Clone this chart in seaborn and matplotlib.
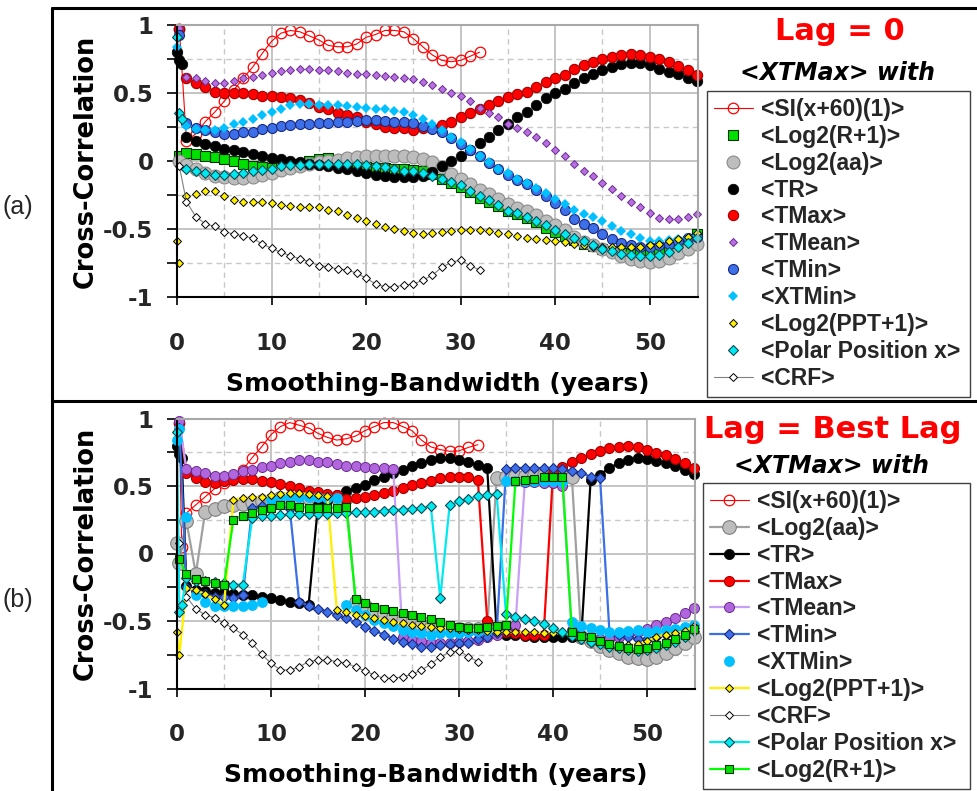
import matplotlib
matplotlib.use("Agg")
import matplotlib.pyplot as plt
import seaborn as sns
from matplotlib.lines import Line2D
from matplotlib.ticker import FixedLocator

# ---------------- data ----------------
X_MAIN = list(range(1, 56))      # bandwidth 1..55
X_SHORT = list(range(1, 33))     # bandwidth 1..32 (SI, CRF)

Y_TICKS = [-1, -0.5, 0, 0.5, 1]
Y_TICK_LABELS = ["-1", "-0.5", "0", "0.5", "1"]
X_TICKS = [0, 10, 20, 30, 40, 50]
X_TICK_LABELS = ["0", "10", "20", "30", "40", "50"]

# ---- panel (a): Lag = 0 ----
A_SI_X0 = [0.25]
A_SI_Y0 = [0.97]
A_SI = [0.15, 0.20, 0.29, 0.36, 0.44, 0.52, 0.61, 0.69, 0.79, 0.88,
        0.94, 0.96, 0.95, 0.92, 0.89, 0.85, 0.84, 0.84, 0.86, 0.91,
        0.93, 0.96, 0.96, 0.95, 0.90, 0.84, 0.78, 0.74, 0.73, 0.74,
        0.77, 0.80]

A_RP1_X0 = [0.25]
A_RP1_Y0 = [0.04]
A_RP1 = [0.06, 0.055, 0.04, 0.03, 0.015, 0.0, -0.02, -0.035, -0.045, -0.05,
         -0.045, -0.035, -0.02, 0.0, 0.015, 0.02, 0.01, -0.01, -0.03, -0.045,
         -0.05, -0.055, -0.06, -0.06, -0.065, -0.075, -0.095, -0.13, -0.16, -0.19,
         -0.23, -0.27, -0.30, -0.33, -0.37, -0.39, -0.42, -0.45, -0.49, -0.52,
         -0.55, -0.58, -0.61, -0.625, -0.65, -0.66, -0.675, -0.68, -0.685, -0.685,
         -0.675, -0.655, -0.62, -0.585, -0.535]

A_AA_X0 = [0.25]
A_AA_Y0 = [0.0]
A_AA = [-0.03, -0.06, -0.09, -0.11, -0.12, -0.125, -0.125, -0.115, -0.10, -0.085,
        -0.065, -0.05, -0.035, -0.02, -0.01, 0.0, 0.01, 0.02, 0.03, 0.035,
        0.04, 0.04, 0.04, 0.035, 0.03, 0.015, -0.005, -0.045, -0.094, -0.13,
        -0.17, -0.21, -0.246, -0.28, -0.315, -0.345, -0.37, -0.394, -0.44, -0.468,
        -0.51, -0.556, -0.598, -0.62, -0.647, -0.67, -0.70, -0.72, -0.733, -0.745,
        -0.733, -0.71, -0.68, -0.647, -0.61]

A_TR_X0 = [0.0, 0.25, 0.5]
A_TR_Y0 = [0.80, 0.74, 0.71]
A_TR = [0.175, 0.15, 0.128, 0.11, 0.09, 0.078, 0.066, 0.054, 0.04, 0.024,
        0.012, 0.0, -0.01, -0.02, -0.03, -0.04, -0.05, -0.06, -0.07, -0.085,
        -0.10, -0.11, -0.12, -0.12, -0.12, -0.11, -0.08, -0.04, 0.0, 0.04,
        0.08, 0.13, 0.175, 0.225, 0.275, 0.32, 0.36, 0.41, 0.46, 0.50,
        0.53, 0.57, 0.61, 0.64, 0.67, 0.69, 0.71, 0.72, 0.72, 0.705,
        0.68, 0.655, 0.64, 0.61, 0.585]

A_TMAX_X0 = [0.25]
A_TMAX_Y0 = [0.97]
A_TMAX = [0.61, 0.57, 0.545, 0.51, 0.50, 0.50, 0.50, 0.49, 0.48, 0.48,
          0.47, 0.46, 0.45, 0.43, 0.40, 0.38, 0.35, 0.34, 0.32, 0.29,
          0.27, 0.25, 0.24, 0.24, 0.23, 0.24, 0.245, 0.267, 0.29, 0.32,
          0.355, 0.385, 0.415, 0.44, 0.47, 0.49, 0.51, 0.545, 0.58, 0.61,
          0.636, 0.68, 0.705, 0.73, 0.75, 0.766, 0.78, 0.79, 0.78, 0.766,
          0.75, 0.73, 0.70, 0.67, 0.63]

A_TMEAN_X0 = [0.25]
A_TMEAN_Y0 = [0.98]
A_TMEAN = [0.618, 0.61, 0.59, 0.57, 0.57, 0.59, 0.61, 0.62, 0.63, 0.65,
           0.665, 0.67, 0.68, 0.68, 0.67, 0.668, 0.66, 0.65, 0.64, 0.64,
           0.63, 0.626, 0.62, 0.61, 0.60, 0.58, 0.56, 0.53, 0.50, 0.475,
           0.44, 0.39, 0.35, 0.32, 0.27, 0.24, 0.21, 0.18, 0.13, 0.08,
           0.035, -0.025, -0.074, -0.11, -0.16, -0.205, -0.254, -0.30, -0.34, -0.38,
           -0.42, -0.43, -0.43, -0.41, -0.39]

A_TMIN_X0 = [0.25]
A_TMIN_Y0 = [0.93]
A_TMIN = [0.28, 0.24, 0.225, 0.21, 0.196, 0.196, 0.21, 0.213, 0.233, 0.243,
          0.257, 0.267, 0.275, 0.275, 0.28, 0.28, 0.286, 0.286, 0.296, 0.30,
          0.30, 0.296, 0.29, 0.29, 0.28, 0.26, 0.237, 0.21, 0.17, 0.127,
          0.08, 0.034, -0.015, -0.057, -0.10, -0.14, -0.168, -0.21, -0.254, -0.31,
          -0.36, -0.425, -0.46, -0.49, -0.54, -0.574, -0.60, -0.62, -0.63, -0.635,
          -0.62, -0.61, -0.586, -0.566, -0.556]

A_XTMIN_X0 = [0.0]
A_XTMIN_Y0 = [0.84]
A_XTMIN = [0.26, 0.235, 0.225, 0.225, 0.24, 0.27, 0.29, 0.31, 0.34, 0.36,
           0.385, 0.41, 0.42, 0.42, 0.415, 0.415, 0.41, 0.405, 0.40, 0.39,
           0.385, 0.38, 0.365, 0.36, 0.336, 0.31, 0.275, 0.226, 0.176, 0.14,
           0.09, 0.04, -0.008, -0.057, -0.09, -0.13, -0.163, -0.20, -0.237, -0.28,
           -0.315, -0.36, -0.39, -0.414, -0.443, -0.475, -0.512, -0.537, -0.566, -0.586,
           -0.586, -0.58, -0.573, -0.566, -0.55]

A_PPT_X0 = [0.0, 0.25]
A_PPT_Y0 = [-0.585, -0.75]
A_PPT = [-0.254, -0.246, -0.22, -0.22, -0.26, -0.285, -0.298, -0.298, -0.298, -0.31,
         -0.32, -0.33, -0.34, -0.34, -0.34, -0.357, -0.37, -0.396, -0.42, -0.443,
         -0.463, -0.483, -0.50, -0.512, -0.53, -0.54, -0.527, -0.52, -0.517, -0.51,
         -0.508, -0.51, -0.517, -0.53, -0.537, -0.55, -0.566, -0.573, -0.58, -0.59,
         -0.598, -0.61, -0.62, -0.63, -0.63, -0.635, -0.635, -0.635, -0.635, -0.62,
         -0.61, -0.59, -0.573, -0.556, -0.53]

A_POLAR_X0 = [0.0, 0.25, 0.5]
A_POLAR_Y0 = [0.91, 0.355, 0.31]
A_POLAR = [-0.057, -0.075, -0.09, -0.10, -0.10, -0.094, -0.09, -0.074, -0.064, -0.057,
           -0.04, -0.032, -0.032, -0.02, -0.02, -0.02, -0.02, -0.025, -0.025, -0.032,
           -0.04, -0.045, -0.057, -0.07, -0.074, -0.089, -0.11, -0.13, -0.155, -0.18,
           -0.22, -0.26, -0.29, -0.32, -0.365, -0.385, -0.414, -0.44, -0.47, -0.51,
           -0.54, -0.566, -0.59, -0.615, -0.647, -0.66, -0.684, -0.69, -0.696, -0.696,
           -0.69, -0.672, -0.635, -0.605, -0.566]

A_CRF_X0 = [0.25]
A_CRF_Y0 = [-0.04]
A_CRF = [-0.30, -0.41, -0.463, -0.48, -0.52, -0.537, -0.55, -0.568, -0.61, -0.642,
         -0.672, -0.696, -0.72, -0.74, -0.77, -0.777, -0.795, -0.80, -0.826, -0.86,
         -0.905, -0.925, -0.925, -0.913, -0.905, -0.876, -0.84, -0.782, -0.745, -0.728,
         -0.77, -0.80]

# ---- panel (b): Lag = Best Lag ----
B_SI_X0 = [0.25, 0.5]
B_SI_Y0 = [0.97, 0.05]
B_SI = [0.30, 0.36, 0.42, 0.48, 0.52, 0.56, 0.62, 0.71, 0.79, 0.88,
        0.94, 0.97, 0.95, 0.93, 0.89, 0.86, 0.84, 0.85, 0.87, 0.91,
        0.94, 0.97, 0.97, 0.94, 0.91, 0.84, 0.79, 0.77, 0.757, 0.76,
        0.786, 0.806]

B_AA_X0 = [0.0, 0.25]
B_AA_Y0 = [0.08, -0.07]
B_AA = [0.24, -0.15, 0.31, 0.33, 0.35, 0.36, 0.37, 0.38, 0.39, 0.40,
        0.41, 0.41, 0.41, 0.41, 0.41, 0.41, 0.41, 0.41, -0.357, -0.39,
        -0.42, -0.443, -0.468, -0.493, -0.51, -0.53, -0.542, -0.55, -0.555, -0.56,
        -0.56, -0.56, -0.555, 0.56, 0.57, 0.575, 0.575, 0.58, 0.58, 0.58,
        0.575, 0.57, -0.62, -0.65, -0.685, -0.715, -0.74, -0.765, -0.777, -0.78,
        -0.765, -0.74, -0.70, -0.665, -0.62]

B_TR_X0 = [0.0, 0.25, 0.5]
B_TR_Y0 = [0.80, 0.74, 0.71]
B_TR = [-0.24, -0.27, -0.28, -0.29, -0.295, -0.30, -0.307, -0.31, -0.32, -0.33,
        -0.345, -0.357, -0.37, -0.38, 0.36, 0.40, 0.43, 0.46, 0.485, 0.51,
        0.545, 0.57, 0.596, 0.62, 0.645, 0.67, 0.69, 0.705, 0.707, 0.695,
        0.68, 0.655, 0.63, -0.58, -0.60, -0.60, -0.61, -0.62, -0.62, -0.62,
        -0.62, -0.62, -0.62, 0.547, 0.584, 0.633, 0.67, 0.695, 0.707, 0.70,
        0.688, 0.67, 0.646, 0.62, 0.59]

B_TMAX_X0 = [0.25]
B_TMAX_Y0 = [0.97]
B_TMAX = [0.60, 0.56, 0.53, 0.52, 0.535, 0.546, 0.553, 0.55, 0.54, 0.53,
          0.515, 0.497, 0.485, 0.465, 0.455, 0.44, 0.43, 0.405, 0.41, 0.416,
          0.43, 0.448, 0.465, 0.485, 0.505, 0.52, 0.54, 0.56, 0.564, 0.564,
          0.564, 0.547, -0.50, -0.57, -0.58, -0.59, -0.60, -0.60, -0.60, 0.60,
          0.64, 0.68, 0.71, 0.737, 0.76, 0.78, 0.79, 0.80, 0.786, 0.77,
          0.745, 0.727, 0.70, 0.67, 0.633]

B_TMEAN_X0 = [0.25]
B_TMEAN_Y0 = [0.98]
B_TMEAN = [0.625, 0.61, 0.596, 0.576, 0.576, 0.59, 0.61, 0.62, 0.64, 0.65,
           0.67, 0.68, 0.69, 0.69, 0.68, 0.675, 0.66, 0.65, 0.645, 0.64,
           0.633, 0.633, 0.625, -0.62, -0.64, -0.65, -0.66, -0.66, -0.66, -0.655,
           -0.65, -0.64, -0.62, -0.60, -0.56, -0.53, 0.53, 0.53, 0.52, 0.52,
           0.50, -0.57, -0.60, -0.62, -0.63, -0.63, -0.62, -0.60, -0.58, -0.56,
           -0.53, -0.505, -0.48, -0.44, -0.40]

B_TMIN_X0 = [0.25]
B_TMIN_Y0 = [0.93]
B_TMIN = [-0.25, -0.28, -0.30, -0.32, -0.32, -0.33, -0.31, 0.34, 0.35, 0.355,
          0.36, 0.33, -0.36, -0.387, -0.41, -0.43, -0.455, -0.48, -0.51, -0.542,
          -0.574, -0.60, -0.63, -0.653, -0.67, -0.69, -0.69, -0.678, -0.673, -0.665,
          -0.66, -0.634, -0.616, -0.59, 0.626, 0.633, 0.633, 0.633, 0.633, 0.633,
          0.626, 0.61, 0.596, 0.57, 0.56, -0.58, -0.60, -0.62, -0.63, -0.63,
          -0.62, -0.60, -0.58, -0.57, -0.55]

B_XTMIN_X0 = [0.0, 0.25]
B_XTMIN_Y0 = [0.84, 0.92]
B_XTMIN = [0.27, -0.31, -0.36, -0.39, -0.39, -0.39, -0.386, -0.38, -0.36, 0.40,
           0.41, 0.415, 0.42, 0.42, 0.415, 0.41, 0.41, -0.38, -0.418, -0.455,
           -0.49, -0.517, -0.54, -0.567, -0.584, -0.59, -0.60, -0.59, -0.59, -0.59,
           -0.585, -0.575, -0.565, -0.55, 0.54, 0.535, 0.535, 0.535, 0.535, 0.535,
           0.53, -0.505, -0.54, -0.55, -0.565, -0.585, -0.585, -0.575, -0.57, -0.585,
           -0.575, -0.57, -0.56, -0.545, -0.53]

B_PPT_X0 = [0.0, 0.25]
B_PPT_Y0 = [-0.585, -0.75]
B_PPT = [-0.258, -0.27, -0.30, -0.34, -0.38, 0.40, 0.41, 0.416, 0.416, 0.43,
         0.44, 0.448, 0.448, 0.44, 0.43, 0.423, -0.42, -0.43, -0.455, -0.46,
         -0.475, -0.49, -0.51, -0.517, -0.53, -0.535, -0.542, -0.55, -0.555, -0.56,
         -0.565, -0.57, -0.575, -0.58, -0.585, -0.585, -0.585, -0.585, -0.59, -0.59,
         -0.595, -0.60, -0.63, -0.665, -0.67, -0.68, -0.68, -0.68, -0.67, -0.65,
         -0.616, -0.60, -0.59, -0.575, -0.54]

B_CRF_X0 = [0.25]
B_CRF_Y0 = [0.08]
B_CRF = [-0.32, -0.41, -0.455, -0.475, -0.517, -0.555, -0.60, -0.665, -0.747, -0.813,
         -0.863, -0.863, -0.84, -0.80, -0.79, -0.79, -0.80, -0.813, -0.84, -0.87,
         -0.90, -0.925, -0.925, -0.912, -0.895, -0.863, -0.82, -0.764, -0.732, -0.72,
         -0.764, -0.80]

B_POLAR_X0 = [0.0, 0.25, 0.5]
B_POLAR_Y0 = [0.90, -0.43, -0.38]
B_POLAR = [-0.18, -0.20, -0.20, -0.21, -0.22, -0.23, -0.23, 0.26, 0.275, 0.275,
           0.283, 0.29, 0.29, 0.29, 0.29, 0.29, 0.30, 0.30, 0.307, 0.307,
           0.31, 0.317, 0.325, 0.325, 0.33, 0.337, 0.35, -0.33, 0.357, 0.387,
           0.406, 0.423, 0.43, 0.44, -0.45, -0.47, -0.485, -0.50, -0.525, -0.55,
           -0.585, -0.61, -0.63, -0.653, -0.67, -0.69, -0.70, -0.715, -0.72, -0.715,
           -0.70, -0.678, -0.653, -0.616, -0.574]

B_RP1_X0 = [0.25]
B_RP1_Y0 = [-0.04]
B_RP1 = [-0.155, -0.19, -0.20, -0.216, -0.23, 0.25, 0.28, 0.30, 0.325, 0.34,
         0.357, 0.357, 0.345, 0.34, 0.34, 0.34, 0.34, 0.345, -0.337, -0.364,
         -0.394, -0.41, -0.426, -0.443, -0.455, -0.473, -0.485, -0.505, -0.53, -0.542,
         -0.55, -0.55, -0.545, -0.54, -0.53, 0.54, 0.546, 0.553, 0.564, 0.57,
         0.57, -0.58, -0.61, -0.62, -0.648, -0.673, -0.683, -0.70, -0.707, -0.70,
         -0.678, -0.665, -0.633, -0.60, -0.56]

LEGEND_A = ["<SI(x+60)(1)>", "<Log2(R+1)>", "<Log2(aa)>", "<TR>", "<TMax>", "<TMean>",
            "<TMin>", "<XTMin>", "<Log2(PPT+1)>", "<Polar Position x>", "<CRF>"]
LEGEND_B = ["<SI(x+60)(1)>", "<Log2(aa)>", "<TR>", "<TMax>", "<TMean>", "<TMin>",
            "<XTMin>", "<Log2(PPT+1)>", "<CRF>", "<Polar Position x>", "<Log2(R+1)>"]

# ---------------- styles ----------------
def mk(color, marker, ms, mfc, mec, mew, ls="none", lw=1.5):
    return dict(color=color, marker=marker, markersize=ms, markerfacecolor=mfc,
                markeredgecolor=mec, markeredgewidth=mew, linestyle=ls, linewidth=lw)

STYLE_A = {
    "<SI(x+60)(1)>": mk("#FF0000", "o", 7.6, "none", "#FF0000", 0.9, "-", 0.8),
    "<Log2(R+1)>": mk("#00D000", "s", 7.4, "#00E000", "#003000", 0.8),
    "<Log2(aa)>": mk("#B8B8B8", "o", 9.3, "#BDBDBD", "#8A8A8A", 0.8),
    "<TR>": mk("black", "o", 7.6, "black", "black", 0.5),
    "<TMax>": mk("#FF0000", "o", 7.4, "#FF0000", "#A00000", 0.8),
    "<TMean>": mk("#B266DD", "D", 4.4, "#B870E0", "#6A2C90", 0.7),
    "<TMin>": mk("#3B6FE6", "o", 7.2, "#3C6FE8", "#1A2A80", 0.8),
    "<XTMin>": mk("#00BFFF", "D", 4.9, "#00C0FF", "#00C0FF", 0.0),
    "<Log2(PPT+1)>": mk("#FFEE00", "D", 4.3, "#FFF000", "black", 0.7),
    "<Polar Position x>": mk("#00E8F0", "D", 5.3, "#00E8F0", "#104850", 0.8),
    "<CRF>": mk("#808080", "D", 4.3, "white", "black", 0.7, "-", 0.8),
}
STYLE_B = {
    "<SI(x+60)(1)>": mk("#FF0000", "o", 7.6, "none", "#FF0000", 0.9, "-", 0.8),
    "<Log2(aa)>": mk("#A0A0A0", "o", 9.8, "#BDBDBD", "#808080", 0.8, "-", 1.6),
    "<TR>": mk("black", "o", 7.4, "black", "black", 0.5, "-", 1.6),
    "<TMax>": mk("#FF0000", "o", 7.2, "#FF0000", "#A00000", 0.8, "-", 1.6),
    "<TMean>": mk("#C8A0F8", "o", 7.2, "#B266DD", "#6A2C90", 0.7, "-", 1.6),
    "<TMin>": mk("#3B6FE6", "D", 4.9, "#3C6FE8", "#1A2A80", 0.8, "-", 1.6),
    "<XTMin>": mk("#00BFFF", "o", 7.8, "#00C0FF", "#00C0FF", 0.0),
    "<Log2(PPT+1)>": mk("#FFF000", "D", 4.1, "#FFF000", "black", 0.7, "-", 1.6),
    "<CRF>": mk("#808080", "D", 4.5, "white", "black", 0.7, "-", 0.8),
    "<Polar Position x>": mk("#00E8F0", "D", 5.1, "#00E8F0", "#104850", 0.8, "-", 1.6),
    "<Log2(R+1)>": mk("#00FF00", "s", 6.2, "#00E000", "#003000", 0.8, "-", 1.6),
}

SERIES_A = [
    ("<SI(x+60)(1)>", A_SI_X0, A_SI_Y0, X_SHORT, A_SI),
    ("<Log2(R+1)>", A_RP1_X0, A_RP1_Y0, X_MAIN, A_RP1),
    ("<Log2(aa)>", A_AA_X0, A_AA_Y0, X_MAIN, A_AA),
    ("<TR>", A_TR_X0, A_TR_Y0, X_MAIN, A_TR),
    ("<TMax>", A_TMAX_X0, A_TMAX_Y0, X_MAIN, A_TMAX),
    ("<TMean>", A_TMEAN_X0, A_TMEAN_Y0, X_MAIN, A_TMEAN),
    ("<TMin>", A_TMIN_X0, A_TMIN_Y0, X_MAIN, A_TMIN),
    ("<XTMin>", A_XTMIN_X0, A_XTMIN_Y0, X_MAIN, A_XTMIN),
    ("<Log2(PPT+1)>", A_PPT_X0, A_PPT_Y0, X_MAIN, A_PPT),
    ("<Polar Position x>", A_POLAR_X0, A_POLAR_Y0, X_MAIN, A_POLAR),
    ("<CRF>", A_CRF_X0, A_CRF_Y0, X_SHORT, A_CRF),
]
SERIES_B = [
    ("<SI(x+60)(1)>", B_SI_X0, B_SI_Y0, X_SHORT, B_SI),
    ("<Log2(aa)>", B_AA_X0, B_AA_Y0, X_MAIN, B_AA),
    ("<TR>", B_TR_X0, B_TR_Y0, X_MAIN, B_TR),
    ("<TMax>", B_TMAX_X0, B_TMAX_Y0, X_MAIN, B_TMAX),
    ("<TMean>", B_TMEAN_X0, B_TMEAN_Y0, X_MAIN, B_TMEAN),
    ("<TMin>", B_TMIN_X0, B_TMIN_Y0, X_MAIN, B_TMIN),
    ("<XTMin>", B_XTMIN_X0, B_XTMIN_Y0, X_MAIN, B_XTMIN),
    ("<Log2(PPT+1)>", B_PPT_X0, B_PPT_Y0, X_MAIN, B_PPT),
    ("<CRF>", B_CRF_X0, B_CRF_Y0, X_SHORT, B_CRF),
    ("<Polar Position x>", B_POLAR_X0, B_POLAR_Y0, X_MAIN, B_POLAR),
    ("<Log2(R+1)>", B_RP1_X0, B_RP1_Y0, X_MAIN, B_RP1),
]

# ---------------- figure ----------------
sns.set_theme(style="white")
plt.rcParams["font.family"] = ["DejaVu Sans"]

W, H = 978, 791
fig = plt.figure(figsize=(W / 100, H / 100), dpi=100)
fig.patch.set_facecolor("white")


def fx(px):
    return px / W


def fy(py):
    return 1 - py / H


def setup_axes(ax):
    ax.set_xlim(0, 55.1)
    ax.set_ylim(-1, 1)
    ax.xaxis.set_major_locator(FixedLocator(X_TICKS))
    ax.xaxis.set_minor_locator(FixedLocator([5, 15, 25, 35, 45]))
    ax.yaxis.set_major_locator(FixedLocator(Y_TICKS))
    ax.yaxis.set_minor_locator(FixedLocator([-0.75, -0.25, 0.25, 0.75]))
    ax.set_xticklabels(X_TICK_LABELS, fontsize=16.5, fontweight="bold")
    ax.set_yticklabels(Y_TICK_LABELS, fontsize=16.5, fontweight="bold")
    ax.set_axisbelow(True)
    ax.grid(which="major", color="#C4C4C4", linewidth=1.4, linestyle="-")
    ax.grid(which="minor", color="#C8C8C8", linewidth=1.0, linestyle=(0, (4, 3)))
    ax.tick_params(axis="y", which="both", left=True, direction="out", length=7,
                   width=1.2, color="black", pad=10)
    ax.tick_params(axis="x", which="major", bottom=True, direction="out", length=6,
                   width=1.2, color="black", pad=19)
    ax.tick_params(axis="x", which="minor", bottom=False, length=0)
    for s in ["left", "bottom"]:
        ax.spines[s].set_color("black")
        ax.spines[s].set_linewidth(1.5)
    for s in ["top", "right"]:
        ax.spines[s].set_color("#A8A8A8")
        ax.spines[s].set_linewidth(1.5)
    ax.set_ylabel("Cross-Correlation", fontsize=18.5, fontweight="bold", color="black")
    ax.yaxis.set_label_coords(-0.151, 0.5)
    ax.set_xlabel("Smoothing-Bandwidth (years)", fontsize=18, fontweight="bold", color="black")
    ax.xaxis.set_label_coords(0.5, -0.275)
    ax.set_facecolor("white")


def draw_series(ax, series, styles):
    handles = {}
    for name, x0, y0, xs, ys in series:
        x = list(x0) + list(xs)
        y = list(y0) + list(ys)
        sns.lineplot(x=x, y=y, ax=ax, estimator=None, sort=False, legend=False,
                     label=name, clip_on=False, **styles[name])
        handles[name] = ax.lines[-1]
    return handles


axA = fig.add_axes([fx(177), fy(297), fx(698) - fx(177), (297 - 25) / H])
axB = fig.add_axes([fx(177), fy(688.5), fx(695) - fx(177), (688.5 - 418.5) / H])

hA = draw_series(axA, SERIES_A, STYLE_A)
hB = draw_series(axB, SERIES_B, STYLE_B)
setup_axes(axA)
setup_axes(axB)

leg_prop = dict(family="Liberation Sans", weight="bold", size=16.5)


def add_legend(ax, handles, labels, left, top, right):
    leg = ax.legend([handles[l] for l in labels], labels, loc="upper left",
                    bbox_to_anchor=(fx(left), fy(top), fx(right) - fx(left), 0.0),
                    bbox_transform=fig.transFigure, mode="expand", prop=leg_prop,
                    frameon=True, fancybox=False, edgecolor="#404040", facecolor="white",
                    framealpha=1, borderpad=0.3, labelspacing=0.17, handlelength=1.7,
                    handletextpad=0.35, borderaxespad=0, numpoints=1)
    leg.get_frame().set_linewidth(1.0)
    return leg


add_legend(axA, hA, LEGEND_A, 707, 91, 970)
add_legend(axB, hB, LEGEND_B, 703, 483, 970)

# titles
fig.text(fx(840), fy(40), "Lag = 0", color="#FF0000", fontsize=22, fontweight="bold",
         ha="center", va="baseline")
fig.text(fx(838), fy(80), "<XTMax> with", color="black", fontsize=17, fontweight="bold",
         fontstyle="italic", ha="center", va="baseline")
fig.text(fx(833), fy(438), "Lag = Best Lag", color="#FF0000", fontsize=22, fontweight="bold",
         ha="center", va="baseline")
fig.text(fx(832), fy(473), "<XTMax> with", color="black", fontsize=17, fontweight="bold",
         fontstyle="italic", ha="center", va="baseline")

# panel labels
fig.text(fx(18), fy(207), "(a)", fontsize=18, ha="center", va="center",
         family=["Liberation Sans Narrow", "Liberation Sans"])
fig.text(fx(18), fy(600), "(b)", fontsize=18, ha="center", va="center",
         family=["Liberation Sans Narrow", "Liberation Sans"])

# outer frame lines
for (x0, y0, x1, y1) in [(52, 8, 978, 8), (52, 401, 978, 401), (52, 8, 52, 791)]:
    fig.add_artist(Line2D([fx(x0), fx(x1)], [fy(y0), fy(y1)], transform=fig.transFigure,
                          color="black", linewidth=2.2))

fig.savefig("out.png", dpi=100, facecolor="white")
